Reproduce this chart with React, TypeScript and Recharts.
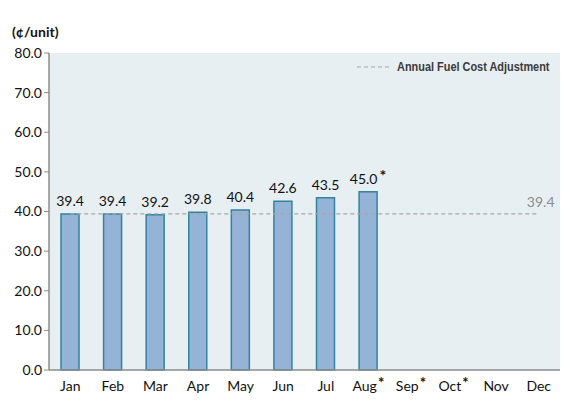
import { ComposedChart, Bar, Line, XAxis, YAxis, LabelList, CartesianGrid } from 'recharts';

const months = ['Jan', 'Feb', 'Mar', 'Apr', 'May', 'Jun', 'Jul', 'Aug', 'Sep', 'Oct', 'Nov', 'Dec'];
const starred = [false, false, false, false, false, false, false, true, true, true, false, false];
const monthlyCost = [39.4, 39.4, 39.2, 39.8, 40.4, 42.6, 43.5, 45.0, null, null, null, null];
const annualAdjustment = [39.4, 39.4, 39.4, 39.4, 39.4, 39.4, 39.4, 39.4, 39.4, 39.4, 39.4, 39.4];
const yTicks = [0, 10, 20, 30, 40, 50, 60, 70, 80];

const data = months.map((m, i) => ({
  month: m,
  cost: monthlyCost[i],
  adj: annualAdjustment[i],
}));

const labelFont = 'Lato, "Open Sans", sans-serif';

function MonthTick(props: any) {
  const { x, y, payload, index } = props;
  const star = starred[index];
  return (
    <text x={x} y={y + 13} textAnchor="middle" fontFamily={labelFont} fontSize={14} fill="#111">
      {payload.value}
      {star && (
        <tspan dx={1} dy={-3} fontSize={15} fontWeight="bold">*</tspan>
      )}
    </text>
  );
}

function CostLabel(props: any) {
  const { x, y, width, value, index } = props;
  if (value == null) return null;
  const star = starred[index];
  return (
    <text x={x + width / 2} y={y - 8} textAnchor="start" fontFamily={labelFont} fontSize={14} fill="#111">
      <tspan x={x + width / 2} textAnchor="middle">{Number(value).toFixed(1)}</tspan>
      {star && <tspan dx={2} dy={-3} fontSize={16} fontWeight="bold">*</tspan>}
    </text>
  );
}

function AdjLabel(props: any) {
  const { x, y, value, index } = props;
  if (index !== months.length - 1) return null;
  return (
    <text x={x + 2} y={y - 7} textAnchor="middle" fontFamily={labelFont} fontSize={14} fill="#8c8c8c">
      {Number(value).toFixed(1)}
    </text>
  );
}

export default function App() {
  return (
    <div style={{ position: 'fixed', left: 0, top: 0, width: 581, height: 406, background: '#fff' }}>
      <ComposedChart width={581} height={406} data={data} margin={{ top: 53, right: 21, bottom: 6, left: 0 }}>
        <CartesianGrid horizontal={false} vertical={false} fill="#e8eff3" fillOpacity={1} />
        <XAxis
          dataKey="month"
          tick={<MonthTick />}
          tickLine={false}
          axisLine={{ stroke: '#8c8c8c', strokeWidth: 1.5 }}
          interval={0}
          height={30}
        />
        <YAxis
          domain={[0, 80]}
          ticks={yTicks}
          width={49}
          tickFormatter={(v: number) => v.toFixed(1)}
          tick={{ fontFamily: labelFont, fontSize: 14, fill: '#111' }}
          tickLine={{ stroke: '#8c8c8c' }}
          tickSize={5}
          axisLine={{ stroke: '#8c8c8c', strokeWidth: 1.5 }}
        />
        <Bar dataKey="cost" barSize={18} fill="#95b3d7" stroke="#31849b" strokeWidth={1.5} isAnimationActive={false}>
          <LabelList dataKey="cost" content={<CostLabel />} />
        </Bar>
        <Line
          dataKey="adj"
          stroke="#a6a6a6"
          strokeWidth={1.2}
          strokeDasharray="4 3"
          dot={false}
          activeDot={false}
          isAnimationActive={false}
        >
          <LabelList dataKey="adj" content={<AdjLabel />} />
        </Line>
      </ComposedChart>
      <div style={{ position: 'absolute', left: 12, top: 23, fontFamily: labelFont, fontWeight: 'bold', fontSize: 14, color: '#111' }}>
        (¢/unit)
      </div>
      <div style={{ position: 'absolute', left: 357, top: 60, display: 'flex', alignItems: 'center' }}>
        <svg width={40} height={10}>
          <line x1={0} y1={5} x2={32} y2={5} stroke="#a6a6a6" strokeWidth={1.2} strokeDasharray="4 3" />
        </svg>
        <span style={{ display: 'inline-block', transform: 'scaleX(0.91)', transformOrigin: 'left center', whiteSpace: 'nowrap', fontFamily: '"Liberation Sans", Arial, sans-serif', fontWeight: 'bold', fontSize: 12, color: '#3a3a3a' }}>
          Annual Fuel Cost Adjustment
        </span>
      </div>
    </div>
  );
}
